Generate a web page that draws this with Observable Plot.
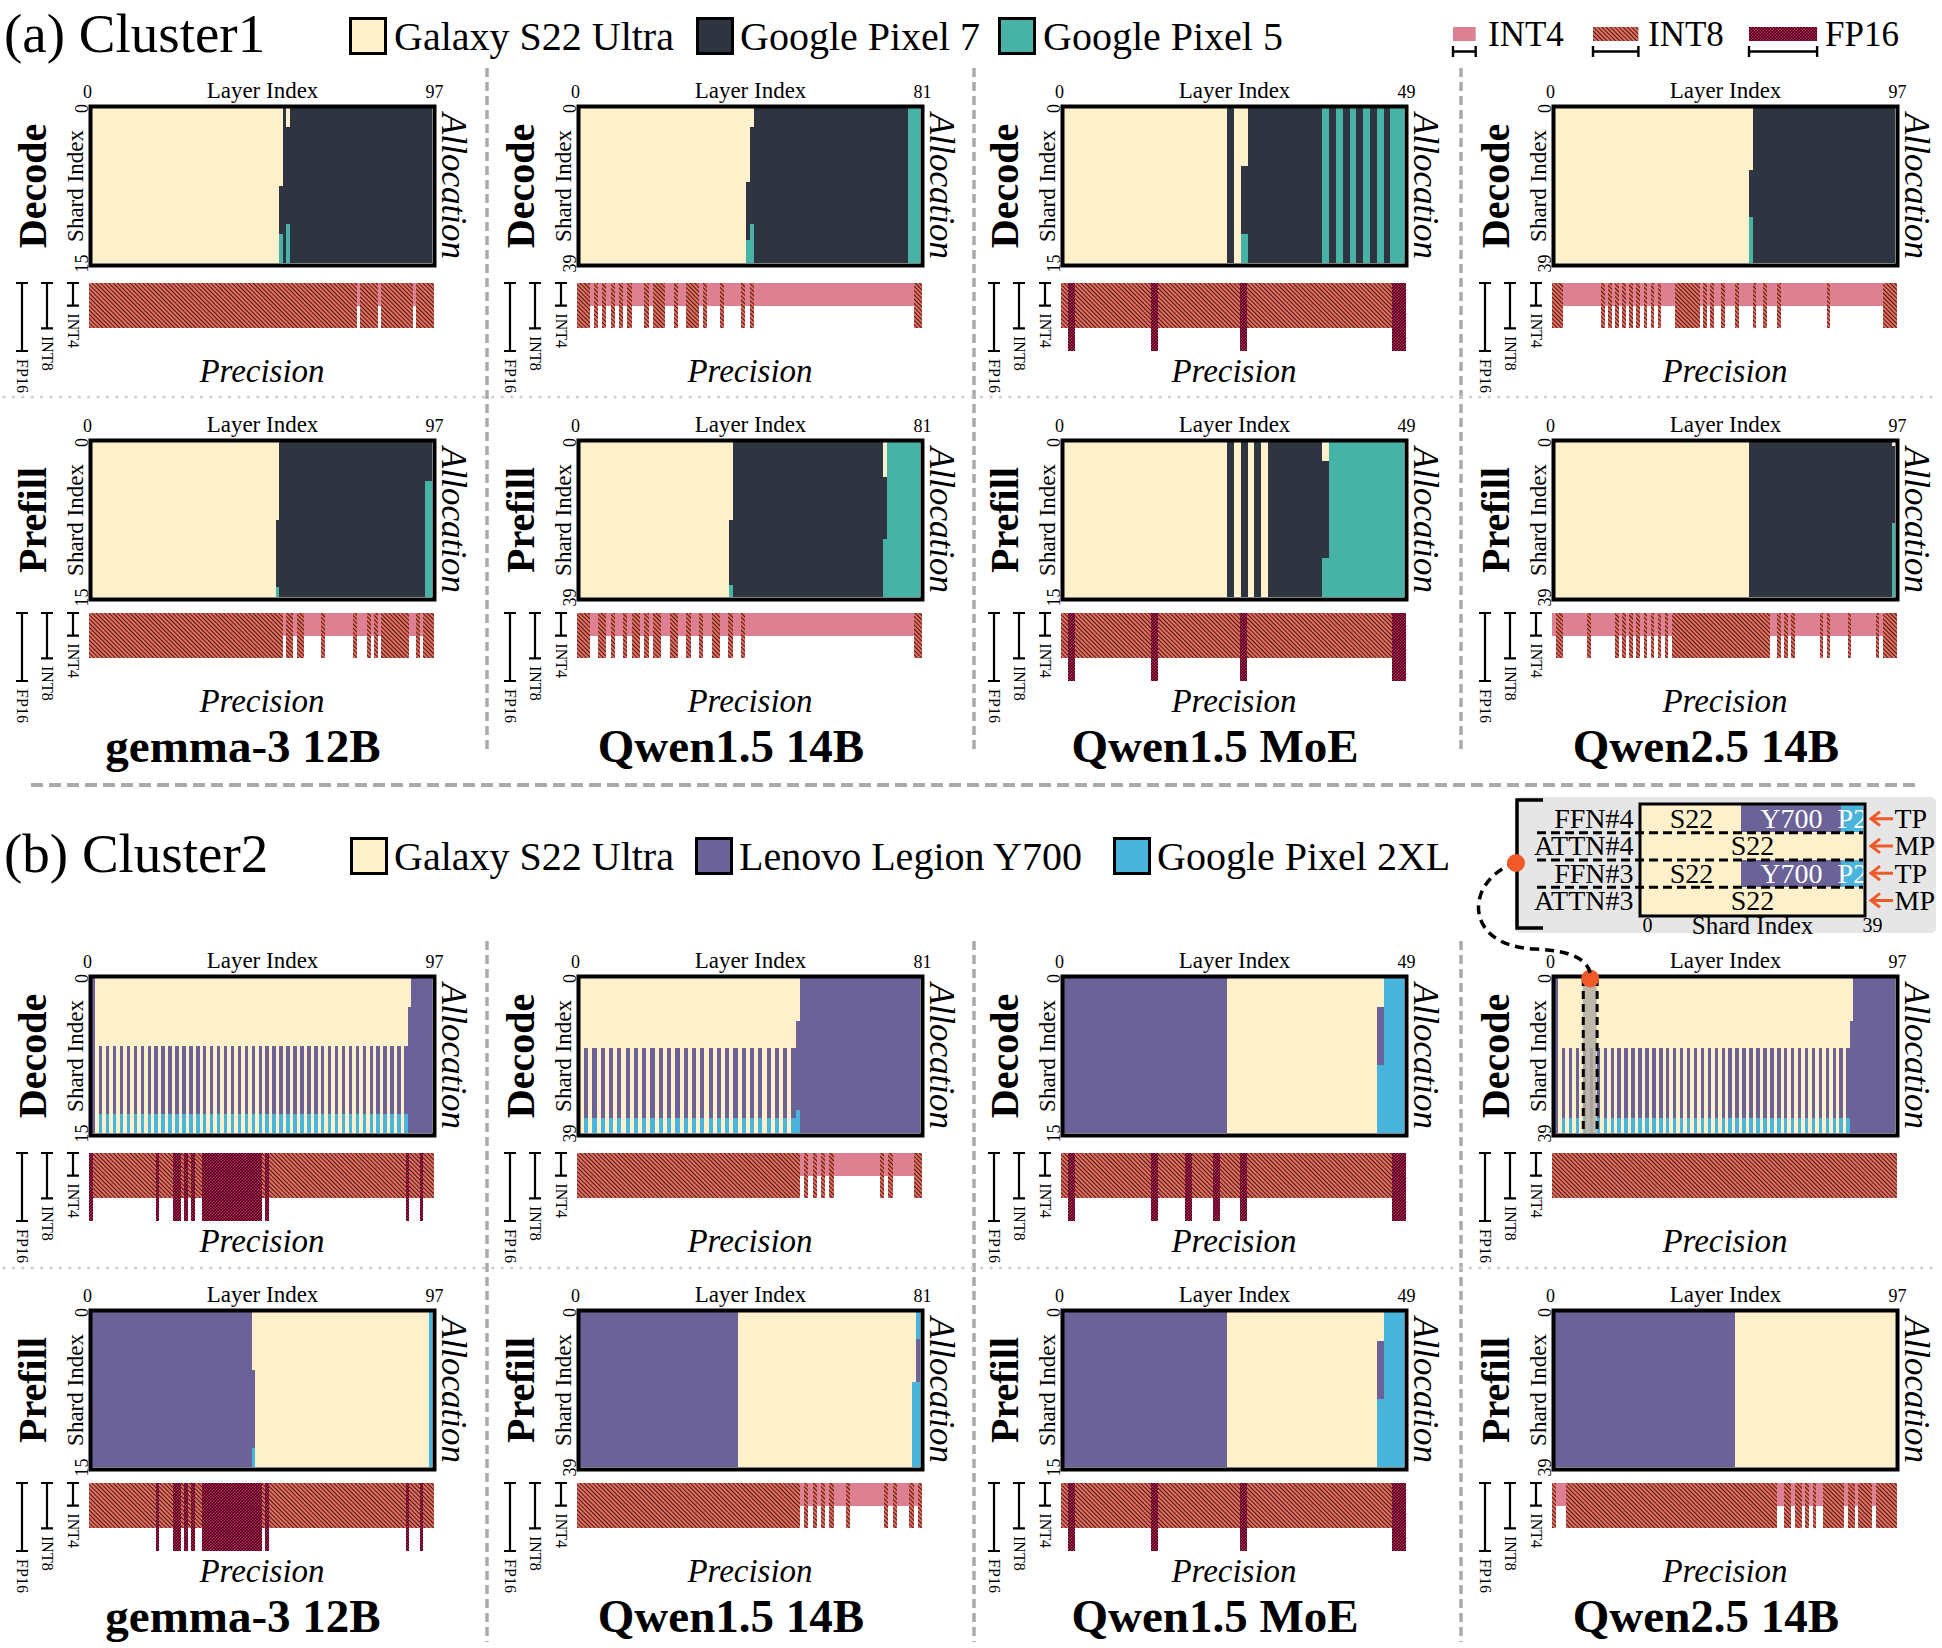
<!DOCTYPE html>
<html><head><meta charset="utf-8">
<script src="https://cdn.jsdelivr.net/npm/d3@7"></script>
<script src="https://cdn.jsdelivr.net/npm/@observablehq/plot@0.6"></script>
<style>
body{margin:0;background:#fff;}
#root{position:relative;width:1942px;height:1648px;overflow:hidden;background:#fff;font-family:"Liberation Serif","Times New Roman",serif;}
#root svg{position:absolute;}
</style></head><body>
<div id="root">
<svg width="0" height="0" style="position:absolute;left:0;top:0">
<defs>
<pattern id="p-int8" patternUnits="userSpaceOnUse" width="3" height="10" patternTransform="rotate(-45)">
<rect width="3" height="10" fill="#ee6b5b"/><rect width="0.85" height="10" fill="#141414"/>
</pattern>
<pattern id="p-fp16" patternUnits="userSpaceOnUse" width="3" height="3">
<rect width="3" height="3" fill="#d81b60"/><rect width="1.5" height="1.5" fill="#1a0008"/><rect x="1.5" y="1.5" width="1.5" height="1.5" fill="#1a0008"/>
</pattern>
</defs></svg>
</div>
<script>
// ---------------- DATA ----------------
const clusterTitles = ["(a) Cluster1", "(b) Cluster2"];
const phaseNames = ["Decode", "Prefill"];
const modelNames = ["gemma-3 12B", "Qwen1.5 14B", "Qwen1.5 MoE", "Qwen2.5 14B"];
const layerCounts = [98, 82, 50, 98];
const shardCounts = [16, 40, 16, 40];
const devicesA = ["Galaxy S22 Ultra", "Google Pixel 7", "Google Pixel 5"];
const devicesB = ["Galaxy S22 Ultra", "Lenovo Legion Y700", "Google Pixel 2XL"];
const deviceColorsA = ["#fff0cc", "#2e3440", "#46b3a6"];
const deviceColorsB = ["#fff0cc", "#6b6397", "#4ab5dc"];
const precisionNames = ["INT4", "INT8", "FP16"];
const precisionDepth = [1, 2, 3];
const precisionFills = ["#dc8092", "url(#p-int8)", "url(#p-fp16)"];

// Allocation regions: [firstLayer, lastLayer, firstShard, lastShard, device] (later entries drawn over earlier)
const allocA_gemma_decode = [[0,97,0,15,1],[0,54,0,7,0],[0,53,8,15,0],[54,54,13,15,2],[56,56,0,1,0],[56,56,12,15,2]];
const allocA_gemma_prefill = [[0,97,0,15,1],[0,53,0,7,0],[0,52,8,15,0],[53,53,15,15,2],[96,97,4,15,2]];
const allocA_qwen15_decode = [[0,81,0,39,1],[0,41,0,4,0],[0,40,5,18,0],[0,39,19,39,0],[40,40,34,39,2],[41,41,30,39,2],[79,81,0,39,2]];
const allocA_qwen15_prefill = [[0,81,0,39,1],[0,36,0,19,0],[0,35,20,39,0],[36,36,37,39,2],[73,73,0,8,0],[73,73,25,39,2],[74,81,0,39,2]];
const allocA_moe_decode = [[0,49,0,15,1],[0,23,0,15,0],[25,25,0,15,0],[26,26,0,5,0],[26,26,13,15,2],[38,38,0,15,2],[40,40,0,15,2],[42,42,0,15,2],[44,44,0,15,2],[46,46,0,15,2],[48,49,0,15,2]];
const allocA_moe_prefill = [[0,49,0,15,1],[0,23,0,15,0],[25,25,0,15,0],[27,27,0,15,0],[29,29,0,15,0],[38,38,0,1,0],[38,38,12,15,2],[39,49,0,15,2]];
const allocA_qwen25_decode = [[0,97,0,39,1],[0,56,0,15,0],[0,55,16,39,0],[56,56,28,39,2]];
const allocA_qwen25_prefill = [[0,97,0,39,1],[0,55,0,39,0],[97,97,0,0,0],[97,97,21,39,2]];

const allocB_gemma_decode = [[0,97,0,15,1],[1,91,0,2,0],[1,90,3,15,0]];
const allocB_gemma_prefill = [[0,97,0,15,0],[0,45,0,5,1],[0,46,6,13,1],[0,45,14,15,1],[46,46,14,15,2],[97,97,0,15,2]];
const allocB_qwen15_decode = [[0,81,0,39,1],[0,52,0,10,0],[0,51,11,39,0],[52,52,34,39,2]];
const allocB_qwen15_prefill = [[0,81,0,39,0],[0,37,0,39,1],[80,80,18,39,2],[81,81,0,6,2],[81,81,7,17,1],[81,81,18,39,2]];
const allocB_moe_decode = [[0,49,0,15,0],[0,23,0,15,1],[46,46,3,8,1],[46,46,9,15,2],[47,49,0,15,2]];
const allocB_moe_prefill = [[0,49,0,15,0],[0,23,0,15,1],[46,46,3,8,1],[46,46,9,15,2],[47,49,0,15,2]];
const allocB_qwen25_decode = [[0,97,0,39,1],[1,85,0,10,0],[1,84,11,39,0],[84,84,34,39,2]];
const allocB_qwen25_prefill = [[0,97,0,39,0],[0,51,0,39,1]];

// FFN layers split by tensor parallelism in cluster 2 decode; split = [Y700 first, Y700 last, P2 first, P2 last] shards
const ffnB_gemma_decode = [2,4,6,8,10,12,14,16,18,20,22,24,26,28,30,32,34,36,38,40,42,44,46,48,50,52,54,56,58,60,62,64,66,68,70,72,74,76,78,80,82,84,86,88,90];
const ffnB_qwen15_decode = [1,3,5,7,9,11,13,15,17,19,21,23,25,27,29,31,33,35,37,39,41,43,45,47,49,51];
const ffnB_qwen25_decode = [2,4,6,8,10,12,14,16,18,20,22,24,26,28,30,32,34,36,38,40,42,44,46,48,50,52,54,56,58,60,62,64,66,68,70,72,74,76,78,80,82,84];
const ffnSplit16 = [7, 13, 14, 15];
const ffnSplit40 = [18, 35, 36, 39];
const highlightLayers = [8, 12];

// Precision runs: [firstLayer, lastLayer, precision index]
const precA_gemma_decode = [[0,75,1],[76,76,0],[77,81,1],[82,82,0],[83,91,1],[92,92,0],[93,97,1]];
const precA_gemma_prefill = [[0,54,1],[55,55,0],[56,57,1],[58,58,0],[59,60,1],[61,65,0],[66,66,1],[67,74,0],[75,75,1],[76,78,0],[79,79,1],[80,80,0],[81,81,1],[82,82,0],[83,90,1],[91,92,0],[93,93,1],[94,94,0],[95,97,1]];
const precA_qwen15_decode = [[0,2,1],[3,3,0],[4,4,1],[5,5,0],[6,6,1],[7,7,0],[8,8,1],[9,9,0],[10,10,1],[11,11,0],[12,12,1],[13,15,0],[16,16,1],[17,17,0],[18,20,1],[21,22,0],[23,23,1],[24,25,0],[26,28,1],[29,29,0],[30,30,1],[31,33,0],[34,34,1],[35,38,0],[39,39,1],[40,40,0],[41,41,1],[42,79,0],[80,81,1]];
const precA_qwen15_prefill = [[0,2,1],[3,4,0],[5,6,1],[7,7,0],[8,8,1],[9,10,0],[11,11,1],[12,12,0],[13,14,1],[15,15,0],[16,16,1],[17,17,0],[18,19,1],[20,21,0],[22,23,1],[24,25,0],[26,26,1],[27,28,0],[29,29,1],[30,31,0],[32,33,1],[34,35,0],[36,36,1],[37,38,0],[39,39,1],[40,79,0],[80,81,1]];
const precA_moe_decode = [[0,0,1],[1,1,2],[2,12,1],[13,13,2],[14,25,1],[26,26,2],[27,47,1],[48,49,2]];
const precA_moe_prefill = [[0,0,1],[1,1,2],[2,12,1],[13,13,2],[14,25,1],[26,26,2],[27,47,1],[48,49,2]];
const precA_qwen25_decode = [[0,2,1],[3,13,0],[14,14,1],[15,15,0],[16,16,1],[17,17,0],[18,18,1],[19,19,0],[20,20,1],[21,21,0],[22,22,1],[23,23,0],[24,24,1],[25,25,0],[26,26,1],[27,27,0],[28,28,1],[29,29,0],[30,30,1],[31,34,0],[35,41,1],[42,42,0],[43,43,1],[44,44,0],[45,45,1],[46,47,0],[48,48,1],[49,51,0],[52,52,1],[53,56,0],[57,57,1],[58,59,0],[60,60,1],[61,63,0],[64,64,1],[65,77,0],[78,78,1],[79,93,0],[94,97,1]];
const precA_qwen25_prefill = [[0,0,0],[1,2,1],[3,9,0],[10,10,1],[11,17,0],[18,18,1],[19,19,0],[20,20,1],[21,21,0],[22,22,1],[23,23,0],[24,24,1],[25,25,0],[26,26,1],[27,27,0],[28,28,1],[29,29,0],[30,30,1],[31,31,0],[32,32,1],[33,33,0],[34,61,1],[62,63,0],[64,64,1],[65,65,0],[66,66,1],[67,67,0],[68,68,1],[69,75,0],[76,76,1],[77,77,0],[78,78,1],[79,83,0],[84,84,1],[85,91,0],[92,92,1],[93,93,0],[94,97,1]];

const precB_gemma_decode = [[0,0,2],[1,18,1],[19,19,2],[20,23,1],[24,25,2],[26,26,1],[27,27,2],[28,28,1],[29,29,2],[30,31,1],[32,48,2],[49,49,1],[50,50,2],[51,89,1],[90,90,2],[91,93,1],[94,94,2],[95,97,1]];
const precB_gemma_prefill = [[0,18,1],[19,19,2],[20,23,1],[24,25,2],[26,26,1],[27,27,2],[28,28,1],[29,29,2],[30,31,1],[32,48,2],[49,49,1],[50,50,2],[51,89,1],[90,90,2],[91,93,1],[94,94,2],[95,97,1]];
const precB_qwen15_decode = [[0,52,1],[53,53,0],[54,54,1],[55,55,0],[56,56,1],[57,57,0],[58,58,1],[59,59,0],[60,60,1],[61,71,0],[72,72,1],[73,73,0],[74,74,1],[75,79,0],[80,81,1]];
const precB_qwen15_prefill = [[0,52,1],[53,53,0],[54,54,1],[55,55,0],[56,56,1],[57,57,0],[58,58,1],[59,59,0],[60,60,1],[61,63,0],[64,64,1],[65,72,0],[73,73,1],[74,74,0],[75,75,1],[76,78,0],[79,79,1],[80,80,0],[81,81,1]];
const precB_moe_decode = [[0,0,1],[1,1,2],[2,12,1],[13,13,2],[14,17,1],[18,18,2],[19,21,1],[22,22,2],[23,25,1],[26,26,2],[27,47,1],[48,49,2]];
const precB_moe_prefill = [[0,0,1],[1,1,2],[2,12,1],[13,13,2],[14,25,1],[26,26,2],[27,47,1],[48,49,2]];
const precB_qwen25_decode = [[0,97,1]];
const precB_qwen25_prefill = [[0,0,1],[1,3,0],[4,63,1],[64,65,0],[66,67,1],[68,68,0],[69,70,1],[71,71,0],[72,72,1],[73,73,0],[74,74,1],[75,76,0],[77,82,1],[83,83,0],[84,85,1],[86,86,0],[87,90,1],[91,91,0],[92,97,1]];

// Inset (tensor / model parallel detail)
const insetRows = ["FFN#4", "ATTN#4", "FFN#3", "ATTN#3"];
const insetModes = ["TP", "MP", "TP", "MP"];
const insetSegments = [[0,0,17,0,"S22"],[0,18,35,1,"Y700"],[0,36,39,2,"P2"],[1,0,39,0,"S22"],[2,0,17,0,"S22"],[2,18,35,1,"Y700"],[2,36,39,2,"P2"],[3,0,39,0,"S22"]];
const insetShards = 40;

// ---------------- LAYOUT ----------------
const FONT = "'Liberation Serif','Times New Roman',serif";
const root = document.getElementById("root");
const colX = [0, 488, 972, 1463];
const heatTops = [[108, 442], [978, 1312]];
const barGap = [174.5, 170.5];
const plotStyle = {background: "transparent", overflow: "visible", maxWidth: "none", fontFamily: FONT, color: "black"};

function place(node, left, top) {
  node.style.position = "absolute";
  node.style.left = left + "px";
  node.style.top = top + "px";
  root.appendChild(node);
}

function regions(alloc, ffn, split) {
  const out = alloc.map(r => ({l0: r[0], l1: r[1] + 1, s0: r[2], s1: r[3] + 1, dev: r[4]}));
  if (ffn) for (const l of ffn) {
    out.push({l0: l, l1: l + 1, s0: split[0], s1: split[1] + 1, dev: 1});
    out.push({l0: l, l1: l + 1, s0: split[2], s1: split[3] + 1, dev: 2});
  }
  return out;
}

function heatPanel({rects, nL, nS, colors, phase, left, heatTop, highlight}) {
  const mL = 92, mR = 43, mT = 45, mB = 12;
  const W = mL + 340 + mR, H = mT + 155 + mB;
  const marks = [
    Plot.rect(rects, {x1: d => d.l0, x2: d => d.l1, y1: d => d.s0, y2: d => d.s1, fill: d => d.dev, shapeRendering: "crispEdges"})
  ];
  if (highlight) {
    marks.push(Plot.rect([highlight], {x1: d => d[0], x2: d => d[1], y1: 0, y2: nS, fill: "#b3aea3", fillOpacity: 0.85}));
    marks.push(Plot.ruleX(highlight, {x: d => d, y1: 0, y2: nS, stroke: "black", strokeWidth: 3, strokeDasharray: "8,5"}));
  }
  marks.push(Plot.frame({stroke: "black", strokeWidth: 4, inset: -2}));
  if (highlight) marks.push(Plot.dot([highlight], {x: d => (d[0] + d[1]) / 2, y: 0, r: 9, fill: "#ef5a28"}));
  marks.push(
    Plot.text([0], {x: d => d, frameAnchor: "top", dx: -5, dy: -11, lineAnchor: "bottom", textAnchor: "middle", text: () => "0", fontSize: 18, fontFamily: FONT}),
    Plot.text([nL], {x: d => d, frameAnchor: "top", dx: 2, dy: -11, lineAnchor: "bottom", textAnchor: "middle", text: d => String(d - 1), fontSize: 18, fontFamily: FONT}),
    Plot.text([0, nS], {y: d => d, frameAnchor: "left", dx: -5, rotate: -90, lineAnchor: "bottom", textAnchor: "middle", text: d => d === 0 ? "0" : String(d - 1), fontSize: 18, fontFamily: FONT}),
    Plot.text(["Layer Index"], {text: d => d, frameAnchor: "top", dy: -11, lineAnchor: "bottom", textAnchor: "middle", fontSize: 23, fontFamily: FONT}),
    Plot.text(["Shard Index"], {text: d => d, frameAnchor: "left", dx: -10, rotate: -90, lineAnchor: "bottom", textAnchor: "middle", fontSize: 23, fontFamily: FONT}),
    Plot.text([phase], {text: d => d, frameAnchor: "left", dx: -47, rotate: -90, lineAnchor: "bottom", textAnchor: "middle", fontSize: 40, fontWeight: "bold", fontFamily: FONT}),
    Plot.text(["Allocation"], {text: d => d, frameAnchor: "right", dx: 9, rotate: 90, lineAnchor: "bottom", textAnchor: "middle", fontSize: 35, fontStyle: "italic", fontFamily: FONT})
  );
  const svg = Plot.plot({
    width: W, height: H, marginLeft: mL, marginRight: mR, marginTop: mT, marginBottom: mB,
    x: {domain: [0, nL], axis: null}, y: {domain: [0, nS], reverse: true, axis: null},
    color: {type: "ordinal", domain: [0, 1, 2], range: colors},
    style: plotStyle, marks
  });
  place(svg, left, heatTop - mT);
}

const bracketX = [73, 47, 22];
function bracketMark(index, scales, values, dim) {
  const y = (scales && typeof scales.y === "function") ? scales.y
    : (v => dim.marginTop + v / 3 * (dim.height - dim.marginTop - dim.marginBottom));
  const g = d3.create("svg:g");
  precisionNames.forEach((p, i) => {
    const bx = bracketX[i], y0 = y(0), y1 = y(precisionDepth[i]);
    g.append("path").attr("d", `M${bx - 6},${y0}H${bx + 6}M${bx},${y0}V${y1}M${bx - 6},${y1}H${bx + 6}`)
      .attr("stroke", "black").attr("stroke-width", 2.2).attr("fill", "none");
    g.append("text").attr("transform", `translate(${bx - 5.5},${y1 + 25}) rotate(90)`)
      .attr("text-anchor", "middle").attr("font-size", 16).attr("font-family", FONT).attr("fill", "black").text(p);
  });
  return g.node();
}

function precPanel({runs, nL, left, barTop}) {
  const mL = 89, mR = 41, mT = 2, mB = 58;
  const W = mL + 345 + mR, H = mT + 68 + mB;
  const svg = Plot.plot({
    width: W, height: H, marginLeft: mL, marginRight: mR, marginTop: mT, marginBottom: mB,
    x: {domain: [0, nL], axis: null}, y: {domain: [0, 3], reverse: true, axis: null},
    color: {type: "ordinal", domain: [0, 1, 2], range: precisionFills},
    style: plotStyle,
    marks: [
      Plot.rect(runs, {x1: d => d[0], x2: d => d[1] + 1, y1: 0, y2: d => precisionDepth[d[2]], fill: d => d[2], shapeRendering: "crispEdges"}),
      bracketMark,
      Plot.text(["Precision"], {text: d => d, frameAnchor: "bottom", dy: 30, lineAnchor: "bottom", textAnchor: "middle", fontSize: 33, fontStyle: "italic", fontFamily: FONT})
    ]
  });
  place(svg, left, barTop - mT);
}

// ---------------- BACKGROUND LAYER (titles, legends, separators) ----------------
const under = d3.select(root).append("svg").attr("width", 1942).attr("height", 1648)
  .style("left", "0px").style("top", "0px").attr("font-family", FONT);

[487, 974, 1461].forEach(x => {
  under.append("line").attr("x1", x).attr("x2", x).attr("y1", 68).attr("y2", 752)
    .attr("stroke", "#aaa").attr("stroke-width", 3.5).attr("stroke-dasharray", "9,5");
  under.append("line").attr("x1", x).attr("x2", x).attr("y1", 941).attr("y2", 1642)
    .attr("stroke", "#aaa").attr("stroke-width", 3.5).attr("stroke-dasharray", "9,5");
});
[397, 1268].forEach(y => under.append("line").attr("x1", 4).attr("x2", 1940).attr("y1", y).attr("y2", y)
  .attr("stroke", "#cfcfcf").attr("stroke-width", 3.2).attr("stroke-linecap", "round").attr("stroke-dasharray", "0.1,9.3"));
under.append("line").attr("x1", 31).attr("x2", 1915).attr("y1", 785).attr("y2", 785)
  .attr("stroke", "#aaa").attr("stroke-width", 4).attr("stroke-dasharray", "12,6");

under.append("text").attr("x", 4).attr("y", 52).attr("font-size", 55).text(clusterTitles[0]);
under.append("text").attr("x", 4).attr("y", 872).attr("font-size", 55).text(clusterTitles[1]);

const legA = {sw: [349, 696, 998], tx: [394, 740, 1043], y: 17};
const legB = {sw: [350, 695, 1113], tx: [394, 739, 1157], y: 837};
[[devicesA, deviceColorsA, legA], [devicesB, deviceColorsB, legB]].forEach(([names, cols, L]) => {
  names.forEach((n, i) => {
    under.append("rect").attr("x", L.sw[i] + 1.5).attr("y", L.y + 1.5).attr("width", 35).attr("height", 35)
      .attr("fill", cols[i]).attr("stroke", "black").attr("stroke-width", 3);
    under.append("text").attr("x", L.tx[i]).attr("y", L.y + 33).attr("font-size", 40).text(n);
  });
});

const precLegX = [1453, 1593, 1749], precLegTx = [1488, 1648, 1825];
precisionNames.forEach((p, i) => {
  const w = precisionDepth[i] * 22.7, x = precLegX[i];
  under.append("rect").attr("x", x).attr("y", 27).attr("width", w).attr("height", 14).attr("fill", precisionFills[i]);
  under.append("path").attr("d", `M${x},46V57M${x},51.5H${x + w}M${x + w},46V57`).attr("stroke", "black").attr("stroke-width", 2.4).attr("fill", "none");
  under.append("text").attr("x", precLegTx[i]).attr("y", 46).attr("font-size", 35).text(p);
});

[762, 1632].forEach(y => modelNames.forEach((m, i) => {
  under.append("text").attr("x", 243 + colX[i]).attr("y", y).attr("text-anchor", "middle")
    .attr("font-size", 47).attr("font-weight", "bold").text(m);
}));

under.append("rect").attr("x", 1515).attr("y", 797).attr("width", 421).attr("height", 136).attr("rx", 5).attr("fill", "#e6e6e6");
under.append("path").attr("d", "M1543,800H1517V928H1543").attr("stroke", "black").attr("stroke-width", 3.5).attr("fill", "none");

// ---------------- PANELS ----------------
const allocA = [[allocA_gemma_decode, allocA_gemma_prefill], [allocA_qwen15_decode, allocA_qwen15_prefill], [allocA_moe_decode, allocA_moe_prefill], [allocA_qwen25_decode, allocA_qwen25_prefill]];
const allocB = [[allocB_gemma_decode, allocB_gemma_prefill], [allocB_qwen15_decode, allocB_qwen15_prefill], [allocB_moe_decode, allocB_moe_prefill], [allocB_qwen25_decode, allocB_qwen25_prefill]];
const ffnB = [[ffnB_gemma_decode, null], [ffnB_qwen15_decode, null], [null, null], [ffnB_qwen25_decode, null]];
const precA = [[precA_gemma_decode, precA_gemma_prefill], [precA_qwen15_decode, precA_qwen15_prefill], [precA_moe_decode, precA_moe_prefill], [precA_qwen25_decode, precA_qwen25_prefill]];
const precB = [[precB_gemma_decode, precB_gemma_prefill], [precB_qwen15_decode, precB_qwen15_prefill], [precB_moe_decode, precB_moe_prefill], [precB_qwen25_decode, precB_qwen25_prefill]];

for (let c = 0; c < 2; c++) {
  for (let m = 0; m < 4; m++) {
    for (let p = 0; p < 2; p++) {
      const nL = layerCounts[m], nS = shardCounts[m];
      const heatTop = heatTops[c][p];
      const alloc = c === 0 ? allocA[m][p] : allocB[m][p];
      const ffn = c === 0 ? null : ffnB[m][p];
      const split = nS === 16 ? ffnSplit16 : ffnSplit40;
      heatPanel({
        rects: regions(alloc, ffn, split), nL, nS,
        colors: c === 0 ? deviceColorsA : deviceColorsB,
        phase: phaseNames[p], left: colX[m], heatTop,
        highlight: (c === 1 && m === 3 && p === 0) ? highlightLayers : null
      });
      precPanel({runs: c === 0 ? precA[m][p] : precB[m][p], nL, left: colX[m], barTop: heatTop + barGap[p]});
    }
  }
}

// ---------------- INSET ----------------
(function () {
  const mL = 141, mR = 77, mT = 10, mB = 31, W = 440, H = 150;
  function arrows(index, scales, values, dim) {
    const g = d3.create("svg:g");
    const xr = dim.width - dim.marginRight;
    const yS = (scales && typeof scales.y === "function") ? scales.y : (v => dim.marginTop + v / 4 * (dim.height - dim.marginTop - dim.marginBottom));
    insetRows.forEach((r, i) => {
      const yy = yS(i + 0.5), x0 = xr + 30, x1 = xr + 8;
      g.append("path").attr("d", `M${x0},${yy}H${x1 + 2}M${x1 + 9},${yy - 7}L${x1},${yy}L${x1 + 9},${yy + 7}`)
        .attr("stroke", "#ef5a28").attr("stroke-width", 3).attr("fill", "none");
    });
    return g.node();
  }
  const svg = Plot.plot({
    width: W, height: H, marginLeft: mL, marginRight: mR, marginTop: mT, marginBottom: mB,
    x: {domain: [0, insetShards], axis: null}, y: {domain: [0, 4], reverse: true, axis: null},
    color: {type: "ordinal", domain: [0, 1, 2], range: deviceColorsB},
    style: plotStyle,
    marks: [
      Plot.rect(insetSegments, {x1: d => d[1], x2: d => d[2] + 1, y1: d => d[0], y2: d => d[0] + 1, fill: d => d[3], shapeRendering: "crispEdges"}),
      Plot.text(insetSegments.filter(d => d[3] === 0), {x: d => (d[1] + d[2] + 1) / 2, y: d => d[0] + 0.5, text: d => d[4], fontSize: 28, fill: "black", fontFamily: FONT}),
      Plot.text(insetSegments.filter(d => d[3] !== 0), {x: d => (d[1] + d[2] + 1) / 2, y: d => d[0] + 0.5, text: d => d[4], fontSize: 28, fill: "white", fontFamily: FONT}),
      Plot.ruleY([1, 2, 3], {y: d => d, stroke: "black", strokeWidth: 3, strokeDasharray: "9,5", insetLeft: -104}),
      Plot.frame({stroke: "black", strokeWidth: 3, inset: -1.5}),
      Plot.text(insetRows, {y: (d, i) => i + 0.5, text: d => d, frameAnchor: "left", dx: -8, textAnchor: "end", fontSize: 28, fontFamily: FONT}),
      Plot.text(insetModes, {y: (d, i) => i + 0.5, text: d => d, frameAnchor: "right", dx: 31, textAnchor: "start", fontSize: 28, fontFamily: FONT}),
      arrows,
      Plot.text([0], {x: d => d, text: () => "0", frameAnchor: "bottom", dy: 3, dx: 6, lineAnchor: "top", textAnchor: "middle", fontSize: 20, fontFamily: FONT}),
      Plot.text([insetShards], {x: d => d, text: d => String(d - 1), frameAnchor: "bottom", dy: 3, dx: 9, lineAnchor: "top", textAnchor: "middle", fontSize: 20, fontFamily: FONT}),
      Plot.text(["Shard Index"], {text: d => d, frameAnchor: "bottom", dy: 2, lineAnchor: "top", textAnchor: "middle", fontSize: 25, fontFamily: FONT})
    ]
  });
  place(svg, 1500, 795);
})();

// ---------------- TOP LAYER (connector) ----------------
const over = d3.select(root).append("svg").attr("width", 1942).attr("height", 1648)
  .style("left", "0px").style("top", "0px").style("pointer-events", "none");
over.append("path").attr("d", "M1516,863 C1466,878 1460,946 1535,949 C1572,951 1589,959 1591,977")
  .attr("fill", "none").attr("stroke", "black").attr("stroke-width", 3.5).attr("stroke-dasharray", "9,6");
over.append("circle").attr("cx", 1516).attr("cy", 863).attr("r", 9).attr("fill", "#ef5a28");
</script>
</body></html>
